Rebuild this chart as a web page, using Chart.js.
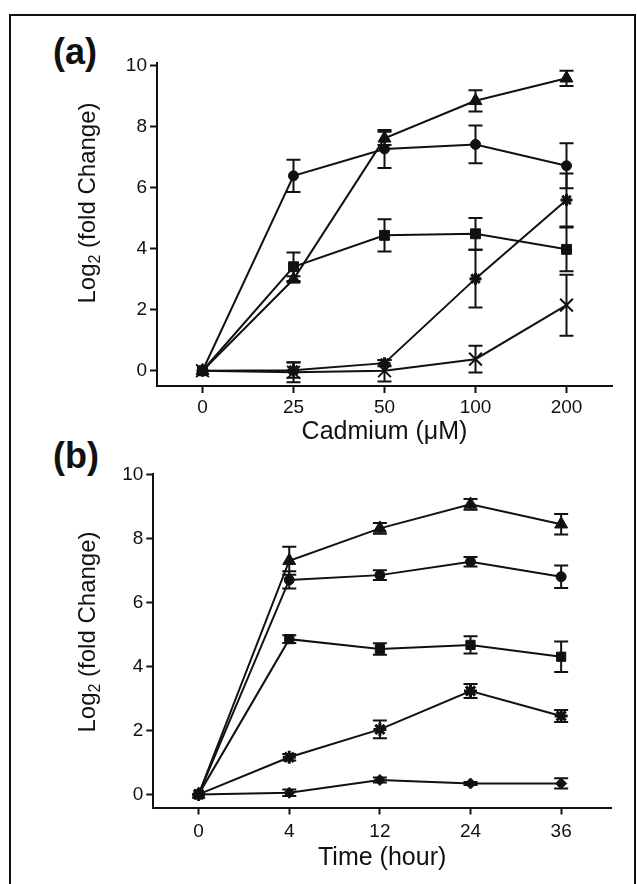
<!DOCTYPE html>
<html>
<head>
<meta charset="utf-8">
<script src="https://cdn.jsdelivr.net/npm/chart.js@4.4.0/dist/chart.umd.min.js"></script>
<style>
  html, body { margin: 0; padding: 0; background: #fff; }
  #page { position: relative; width: 637px; height: 884px; overflow: hidden; font-family: 'Liberation Sans', Arial, sans-serif; }
  #frame { position: absolute; left: 9px; top: 14px; width: 623px; height: 900px; border: 2px solid #111; }
  .tag { position: absolute; font-weight: bold; font-size: 36px; color: #111; line-height: 1; }
  canvas { position: absolute; left: 0; }
</style>
</head>
<body>
<div id="page">
  <div id="frame"></div>
  <div class="tag" style="left:53px; top:34px">(a)</div>
  <div class="tag" style="left:53px; top:438px">(b)</div>
  <canvas id="chartA" width="637" height="450" style="top:0"></canvas>
  <canvas id="chartB" width="637" height="434" style="top:450px"></canvas>
</div>
<script>
// panel (a) - cadmium dose
const doses = ['0', '25', '50', '100', '200'];
const triA = [0, 3.0, 7.62, 8.85, 9.59];
const triErrA = [0, 0.1, 0.22, 0.35, 0.25];
const circA = [0, 6.39, 7.27, 7.42, 6.72];
const circErrA = [0, 0.53, 0.62, 0.62, 0.74];
const sqA = [0, 3.41, 4.44, 4.49, 3.98];
const sqErrA = [0, 0.47, 0.53, 0.52, 0.72];
const starA = [0, 0.02, 0.25, 3.02, 5.6];
const starErrA = [0, 0.25, 0.1, 0.95, 0.87];
const crossA = [0, -0.05, 0, 0.38, 2.15];
const crossErrA = [0, 0.33, 0.35, 0.44, 1.0];

// panel (b) - time course
const hours = ['0', '4', '12', '24', '36'];
const triB = [0, 7.30, 8.31, 9.06, 8.44];
const triErrB = [0, 0.44, 0.17, 0.17, 0.32];
const circB = [0, 6.70, 6.85, 7.27, 6.80];
const circErrB = [0, 0.27, 0.15, 0.15, 0.35];
const sqB = [0, 4.85, 4.54, 4.67, 4.30];
const sqErrB = [0, 0.12, 0.18, 0.27, 0.48];
const starB = [0, 1.16, 2.03, 3.23, 2.45];
const starErrB = [0, 0.1, 0.28, 0.22, 0.19];
const diaB = [0, 0.05, 0.45, 0.34, 0.34];
const diaErrB = [0, 0.1, 0.08, 0.05, 0.16];

const yTicks = [0, 2, 4, 6, 8, 10];
const yTitleMain = 'Log';
const yTitleSub = '2';
const yTitleRest = ' (fold Change)';

const INK = '#111';
const FAMILY = "'Liberation Sans', Arial, sans-serif";

// error bars drawn through the y scale
const errorBars = {
  id: 'errorBars',
  afterDatasetsDraw(chart) {
    const ctx = chart.ctx;
    const yScale = chart.scales.y;
    chart.data.datasets.forEach((ds, i) => {
      if (!ds.errors) return;
      const meta = chart.getDatasetMeta(i);
      ctx.save();
      ctx.strokeStyle = INK;
      ctx.lineWidth = 2;
      meta.data.forEach((pt, j) => {
        const e = ds.errors[j];
        if (!e) return;
        const v = ds.data[j].y;
        const top = yScale.getPixelForValue(v + e);
        const bot = yScale.getPixelForValue(v - e);
        ctx.beginPath();
        ctx.moveTo(pt.x, top); ctx.lineTo(pt.x, bot);
        ctx.moveTo(pt.x - 7, top); ctx.lineTo(pt.x + 7, top);
        ctx.moveTo(pt.x - 7, bot); ctx.lineTo(pt.x + 7, bot);
        ctx.stroke();
      });
      ctx.restore();
    });
  }
};

// rotated y title with subscript 2
const yTitle = {
  id: 'yTitle',
  afterDraw(chart, args, opts) {
    const ctx = chart.ctx;
    const big = '24px ' + FAMILY;
    const small = '16px ' + FAMILY;
    ctx.save();
    ctx.fillStyle = INK;
    ctx.textBaseline = 'alphabetic';
    ctx.textAlign = 'left';
    ctx.translate(opts.x, opts.y);
    ctx.rotate(-Math.PI / 2);
    ctx.font = big;
    const w1 = ctx.measureText(yTitleMain).width;
    const w3 = ctx.measureText(yTitleRest).width;
    ctx.font = small;
    const w2 = ctx.measureText(yTitleSub).width;
    let x = -(w1 + w2 + w3) / 2;
    ctx.font = big; ctx.fillText(yTitleMain, x, 0); x += w1;
    ctx.font = small; ctx.fillText(yTitleSub, x, 5); x += w2;
    ctx.font = big; ctx.fillText(yTitleRest, x, 0);
    ctx.restore();
  }
};

function series(values, errs, style, radius, bw) {
  return {
    data: values.map((v, i) => ({ x: i, y: v })),
    errors: errs,
    borderColor: INK,
    backgroundColor: INK,
    borderWidth: 2,
    pointStyle: style,
    pointRadius: radius,
    pointBorderWidth: bw,
    pointBackgroundColor: INK,
    pointBorderColor: INK,
    tension: 0,
    clip: false
  };
}

function axisStyle() {
  return {
    grid: { drawOnChartArea: false, tickLength: 7, tickWidth: 2, tickColor: INK },
    border: { color: INK, width: 2 }
  };
}

function makeChart(id, o) {
  new Chart(document.getElementById(id), {
    type: 'line',
    data: { datasets: o.datasets },
    options: {
      responsive: false,
      animation: false,
      devicePixelRatio: 1,
      layout: { padding: o.padding },
      plugins: { legend: { display: false }, tooltip: { enabled: false }, yTitle: o.yTitle },
      scales: {
        x: Object.assign({
          type: 'linear', min: -0.5, max: o.xMax,
          afterBuildTicks: s => { s.ticks = o.cats.map((_, i) => ({ value: i })); },
          afterFit: s => { s.height = o.xHeight; },
          ticks: { callback: v => o.cats[v], color: INK, font: { size: 19, family: FAMILY }, padding: o.tickPad, maxRotation: 0, autoSkip: false },
          title: { display: true, text: o.xTitle, color: INK, font: { size: 25, family: FAMILY }, padding: { top: 0, bottom: o.titlePad } }
        }, axisStyle()),
        y: Object.assign({
          min: o.yMin, max: o.yMax,
          afterBuildTicks: s => { s.ticks = yTicks.map(v => ({ value: v })); },
          afterFit: s => { s.width = 60; },
          ticks: { color: INK, font: { size: 19, family: FAMILY }, padding: 3 }
        }, axisStyle())
      }
    },
    plugins: [errorBars, yTitle]
  });
}

makeChart('chartA', {
  cats: doses,
  xTitle: 'Cadmium (\u03BCM)',
  xMax: 4.5, yMin: -0.5, yMax: 10.1,
  padding: { left: 97, right: 25, top: 62.7, bottom: 0 },
  xHeight: 64, tickPad: 3, titlePad: 3,
  yTitle: { x: 95, y: 203 },
  datasets: [
    series(triA, triErrA, 'triangle', 7.5, 1),
    series(circA, circErrA, 'circle', 5, 1),
    series(sqA, sqErrA, 'rect', 7, 1),
    series(starA, starErrA, 'star', 6, 3),
    series(crossA, crossErrA, 'crossRot', 9, 2)
  ]
});

makeChart('chartB', {
  cats: hours,
  xTitle: 'Time (hour)',
  xMax: 4.55, yMin: -0.41, yMax: 10,
  padding: { left: 93.3, right: 26, top: 24.3, bottom: 0 },
  xHeight: 76.5, tickPad: 6, titlePad: 11,
  yTitle: { x: 95, y: 182 },
  datasets: [
    series(triB, triErrB, 'triangle', 7.5, 1),
    series(circB, circErrB, 'circle', 5, 1),
    series(sqB, sqErrB, 'rect', 6.5, 1),
    series(starB, starErrB, 'star', 6.5, 3),
    series(diaB, diaErrB, 'rectRot', 5.5, 1)
  ]
});
</script>
</body>
</html>
